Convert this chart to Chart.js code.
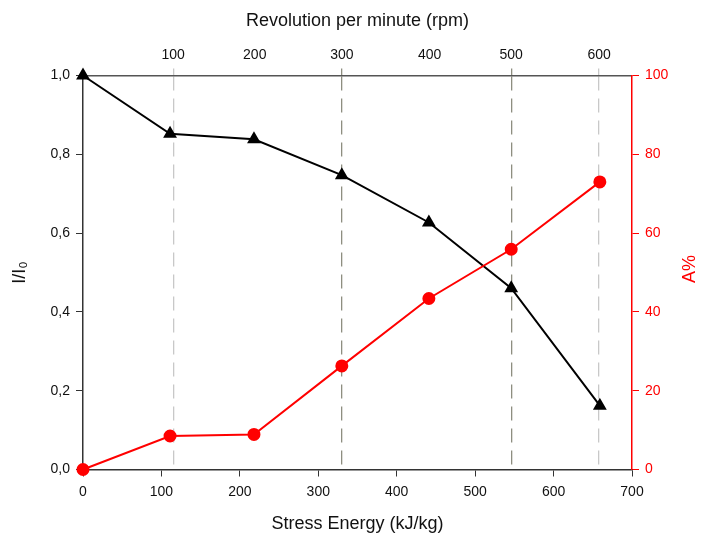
<!DOCTYPE html>
<html>
<head>
<meta charset="utf-8">
<script src="https://cdn.jsdelivr.net/npm/chart.js@4"></script>
<style>
  body { margin: 0; background: #fff; }
  canvas { display: block; }
</style>
</head>
<body>
<canvas id="myCanvas" width="703" height="535"></canvas>
<script>
// stress energy (kJ/kg) for each milling step
const energy = [0, 111, 218, 330, 441, 546, 659];
// I/I0 (left axis)
const intensity = [1.0, 0.852, 0.838, 0.747, 0.627, 0.46, 0.162];
// A% (right axis)
const amorph = [0, 8.5, 8.9, 26.3, 43.4, 55.9, 73.0];
// top axis: rpm labels and where they sit on the energy scale
const rpmLabels = ['100', '200', '300', '400', '500', '600'];
const rpmAt = [115, 219, 330, 442, 546, 658];
const rpmLine = ['#c8c8c8', 'transparent', '#8e8e80', 'transparent', '#8e8e80', '#c8c8c8'];

Chart.defaults.font.family = "'Liberation Sans', Arial, sans-serif";
Chart.defaults.color = '#111';

const canvas = document.getElementById('myCanvas');
const ctx = canvas.getContext('2d');

function pts(ys) {
    return energy.map((x, i) => ({ x: x, y: ys[i] }));
}

function fixSize(prop, size) {
    return function (scale) { scale[prop] = size; };
}

// right title reads bottom-to-top like the left one
const rightTitle = {
    id: 'rightTitle',
    afterDraw(chart) {
        const c = chart.ctx;
        c.save();
        c.translate(690, 269);
        c.rotate(-Math.PI / 2);
        c.fillStyle = '#ff0000';
        c.font = "18px 'Liberation Sans', Arial, sans-serif";
        c.textAlign = 'center';
        c.textBaseline = 'middle';
        c.fillText('A%', 0, 0);
        c.restore();
    }
};

new Chart(ctx, {
    type: 'scatter',
    data: {
        datasets: [
            {
                label: 'A%',
                data: pts(amorph),
                yAxisID: 'y2',
                xAxisID: 'x',
                showLine: true,
                borderColor: '#ff0000',
                backgroundColor: '#ff0000',
                borderWidth: 2,
                pointStyle: 'circle',
                pointRadius: 5.5,
                pointHoverRadius: 5.5,
                clip: false,
                order: 0
            },
            {
                label: 'I/I0',
                data: pts(intensity),
                yAxisID: 'y',
                xAxisID: 'x',
                showLine: true,
                borderColor: '#000',
                backgroundColor: '#000',
                borderWidth: 2,
                pointStyle: 'triangle',
                pointRadius: 6,
                pointHoverRadius: 6,
                clip: false,
                order: 1
            }
        ]
    },
    options: {
        responsive: false,
        animation: false,
        layout: { padding: 0 },
        plugins: {
            legend: { display: false },
            tooltip: { enabled: false }
        },
        scales: {
            x: {
                type: 'linear',
                position: 'bottom',
                min: 0,
                max: 700,
                afterFit: fixSize('height', 65.5),
                ticks: { stepSize: 100, padding: 7, font: { size: 14 }, maxRotation: 0 },
                grid: { drawOnChartArea: false, tickLength: 7, color: '#333', lineWidth: 1 },
                border: { color: '#333', width: 1.5 },
                title: { display: true, text: 'Stress Energy (kJ/kg)', font: { size: 18 }, padding: { bottom: 0 } }
            },
            x2: {
                type: 'linear',
                position: 'top',
                min: 0,
                max: 700,
                afterFit: fixSize('height', 75.5),
                afterBuildTicks: function (scale) {
                    scale.ticks = rpmAt.map(v => ({ value: v }));
                },
                ticks: {
                    padding: 5,
                    font: { size: 14 },
                    maxRotation: 0,
                    autoSkip: false,
                    callback: (v, i) => rpmLabels[i]
                },
                grid: {
                    drawOnChartArea: true,
                    drawTicks: true,
                    tickLength: 7,
                    color: c => rpmLine[c.index],
                    tickColor: c => rpmLine[c.index],
                    lineWidth: 1.3
                },
                border: { color: '#555', width: 1.5, dash: [14, 8] },
                title: { display: true, text: 'Revolution per minute (rpm)', font: { size: 18 }, padding: { top: 10 } }
            },
            y: {
                position: 'left',
                min: 0,
                max: 1,
                afterFit: fixSize('width', 83),
                ticks: {
                    stepSize: 0.2,
                    padding: 6,
                    font: { size: 14 },
                    callback: v => v.toFixed(1).replace('.', ',')
                },
                grid: { drawOnChartArea: false, tickLength: 7, color: '#333' },
                border: { color: '#333', width: 1.5 },
                title: { display: true, text: 'I/I\u2080', font: { size: 18 }, padding: { top: 9 } }
            },
            y2: {
                position: 'right',
                min: 0,
                max: 100,
                afterFit: fixSize('width', 71),
                ticks: { stepSize: 20, padding: 6, color: '#ff0000', font: { size: 14 } },
                grid: { drawOnChartArea: false, tickLength: 7, color: '#ff0000' },
                border: { color: '#ff0000', width: 1.5 },
                title: { display: false }
            }
        }
    },
    plugins: [rightTitle]
});
</script>
</body>
</html>
